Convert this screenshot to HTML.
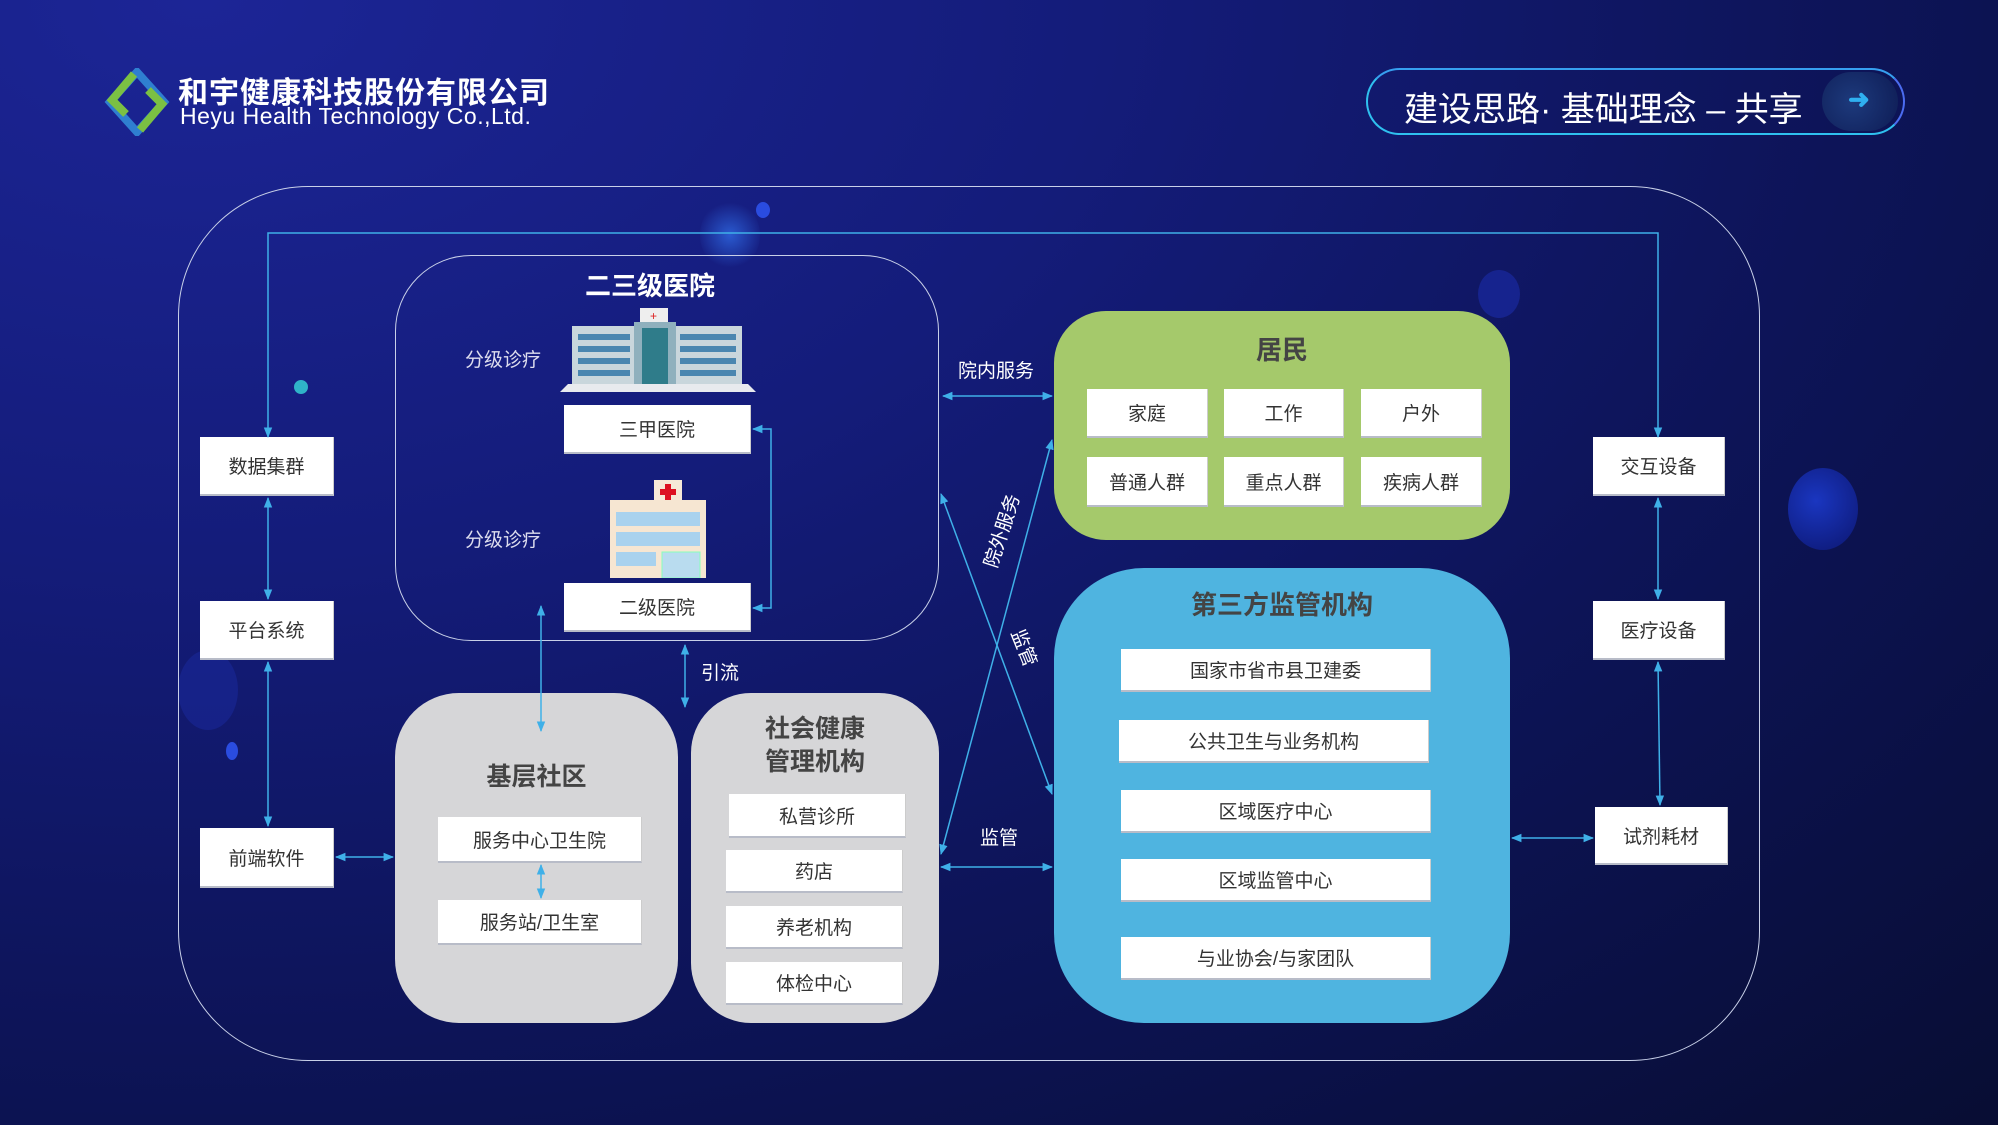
<!DOCTYPE html>
<html><head><meta charset="utf-8">
<style>
*{margin:0;padding:0;box-sizing:border-box}
body{width:1998px;height:1125px;overflow:hidden;position:relative;font-family:"Liberation Sans","Noto Sans CJK SC",sans-serif;
background:radial-gradient(ellipse at 10% 0%,#1c2596 0%,#141c7a 35%,#0d1458 65%,#080d33 100%);}
.a{position:absolute}
.box{position:absolute;background:#fff;color:#333;font-size:19px;display:flex;align-items:center;justify-content:center;border-bottom:2px solid #b8bcc8;border-right:1px solid #ccc}
.t{position:absolute;color:#fff;font-size:19px;white-space:nowrap}
.h{position:absolute;font-weight:bold;color:#444;text-align:center}
</style></head><body>
<!-- decorative dots -->
<div class="a" style="left:700px;top:200px;width:60px;height:70px;border-radius:50%;background:radial-gradient(circle,#2a5ad0 0%,rgba(30,60,180,0) 70%)"></div>
<div class="a" style="left:1478px;top:270px;width:42px;height:48px;border-radius:50%;background:#1a2aa0;opacity:.7"></div>
<div class="a" style="left:1788px;top:468px;width:70px;height:82px;border-radius:50%;background:radial-gradient(circle at 40% 40%,#1a36c0,#0c1670)"></div>
<div class="a" style="left:178px;top:650px;width:60px;height:80px;border-radius:50%;background:#1a2aa0;opacity:.5"></div>
<div class="a" style="left:294px;top:380px;width:14px;height:14px;border-radius:50%;background:#2fb3c8"></div>
<div class="a" style="left:226px;top:742px;width:12px;height:18px;border-radius:50%;background:#2a4ce0"></div>
<div class="a" style="left:756px;top:202px;width:14px;height:16px;border-radius:50%;background:#2a4ce0"></div>

<!-- logo -->
<svg class="a" style="left:104px;top:68px" width="66" height="68" viewBox="0 0 66 68">
<path d="M33 4 L60 34 L33 64 L6 34 Z" fill="none" stroke="#2f7fd0" stroke-width="8"/>
<path d="M30 6 L8 32 L22 46" fill="none" stroke="#7bc043" stroke-width="8"/>
<path d="M36 62 L58 36 L44 22" fill="none" stroke="#7bc043" stroke-width="8"/>
</svg>
<div class="t" style="left:178px;top:68px;font-size:30px;font-weight:bold;letter-spacing:1px">和宇健康科技股份有限公司</div>
<div class="t" style="left:180px;top:103px;font-size:23px;letter-spacing:0.5px">Heyu Health Technology Co.,Ltd.</div>

<!-- title pill -->
<div class="a" style="left:1366px;top:68px;width:539px;height:67px;border-radius:34px;border:2px solid #2fc0ef;border-right-color:#4b6cf0;border-top-color:#36a0f0"></div>
<div class="t" style="left:1404px;top:82px;font-size:34px">建设思路· 基础理念 – 共享</div>
<div class="a" style="left:1822px;top:72px;width:76px;height:59px;border-radius:30px;background:radial-gradient(circle at 40% 50%,#1d3a7c,#0e1c55)"></div>
<div class="t" style="left:1848px;top:84px;font-size:26px;color:#2fb0f0;font-weight:bold">➜</div>

<!-- outer frame -->
<div class="a" style="left:178px;top:186px;width:1582px;height:875px;border:1.5px solid #c8d0e8;border-radius:130px"></div>

<!-- hospital frame -->
<div class="a" style="left:395px;top:255px;width:544px;height:386px;border:1.5px solid #c8d0e8;border-radius:76px"></div>
<div class="t" style="left:585px;top:266px;font-size:26px;font-weight:bold">二三级医院</div>
<div class="t" style="left:465px;top:345px;font-size:19px;color:#dde">分级诊疗</div>
<div class="t" style="left:465px;top:525px;font-size:19px;color:#dde">分级诊疗</div>
<!-- big building -->
<svg class="a" style="left:558px;top:308px" width="200" height="84" viewBox="0 0 200 84">
<rect x="82" y="0" width="28" height="14" fill="#eee"/><text x="92" y="12" fill="#d22" font-size="12" font-family="Liberation Sans">+</text>
<rect x="14" y="18" width="170" height="58" fill="#c9d6dc"/>
<rect x="76" y="14" width="42" height="64" fill="#8fb0bd"/>
<rect x="84" y="20" width="26" height="58" fill="#2f7c8a"/>
<g fill="#4a86b0"><rect x="20" y="26" width="52" height="6"/><rect x="20" y="38" width="52" height="6"/><rect x="20" y="50" width="52" height="6"/><rect x="20" y="62" width="52" height="6"/>
<rect x="122" y="26" width="56" height="6"/><rect x="122" y="38" width="56" height="6"/><rect x="122" y="50" width="56" height="6"/><rect x="122" y="62" width="56" height="6"/></g>
<polygon points="10,76 190,76 198,84 2,84" fill="#e8eaee"/>
</svg>
<!-- small building -->
<svg class="a" style="left:606px;top:480px" width="104" height="98" viewBox="0 0 104 98">
<rect x="48" y="0" width="28" height="24" fill="#f6e9d8"/><rect x="59" y="4" width="6" height="16" fill="#d12"/><rect x="54" y="9" width="16" height="6" fill="#d12"/>
<rect x="4" y="20" width="96" height="78" fill="#f6e6d2"/>
<g fill="#a9d2ee"><rect x="10" y="32" width="84" height="14"/><rect x="10" y="52" width="84" height="14"/><rect x="10" y="72" width="40" height="14"/></g>
<rect x="56" y="72" width="38" height="26" fill="#b9dcef" stroke="#8fb" stroke-width="1"/>
</svg>
<div class="box" style="left:564px;top:405px;width:187px;height:49px">三甲医院</div>
<div class="box" style="left:564px;top:583px;width:187px;height:49px">二级医院</div>

<!-- left & right boxes -->
<div class="box" style="left:200px;top:437px;width:134px;height:59px">数据集群</div>
<div class="box" style="left:200px;top:601px;width:134px;height:59px">平台系统</div>
<div class="box" style="left:200px;top:828px;width:134px;height:60px">前端软件</div>
<div class="box" style="left:1593px;top:437px;width:132px;height:59px">交互设备</div>
<div class="box" style="left:1593px;top:601px;width:132px;height:59px">医疗设备</div>
<div class="box" style="left:1595px;top:807px;width:133px;height:58px">试剂耗材</div>

<!-- 居民 -->
<div class="a" style="left:1054px;top:311px;width:456px;height:229px;border-radius:52px;background:#a5c96b"></div>
<div class="h" style="left:1054px;top:330px;width:456px;font-size:26px">居民</div>
<div class="box" style="left:1087px;top:389px;width:121px;height:49px">家庭</div>
<div class="box" style="left:1224px;top:389px;width:120px;height:49px">工作</div>
<div class="box" style="left:1361px;top:389px;width:121px;height:49px">户外</div>
<div class="box" style="left:1087px;top:457px;width:121px;height:50px">普通人群</div>
<div class="box" style="left:1224px;top:457px;width:120px;height:50px">重点人群</div>
<div class="box" style="left:1361px;top:457px;width:121px;height:50px">疾病人群</div>

<!-- 第三方 -->
<div class="a" style="left:1054px;top:568px;width:456px;height:455px;border-radius:90px;background:#4fb4e0"></div>
<div class="h" style="left:1054px;top:585px;width:456px;font-size:26px">第三方监管机构</div>
<div class="box" style="left:1121px;top:649px;width:310px;height:43px">国家市省市县卫建委</div>
<div class="box" style="left:1119px;top:720px;width:310px;height:43px">公共卫生与业务机构</div>
<div class="box" style="left:1121px;top:790px;width:310px;height:43px">区域医疗中心</div>
<div class="box" style="left:1121px;top:859px;width:310px;height:43px">区域监管中心</div>
<div class="box" style="left:1121px;top:937px;width:310px;height:43px">与业协会/与家团队</div>

<!-- 基层社区 -->
<div class="a" style="left:395px;top:693px;width:283px;height:330px;border-radius:64px;background:#d6d6d8"></div>
<div class="h" style="left:395px;top:757px;width:283px;font-size:25px">基层社区</div>
<div class="box" style="left:438px;top:817px;width:204px;height:46px">服务中心卫生院</div>
<div class="box" style="left:438px;top:900px;width:204px;height:45px">服务站/卫生室</div>

<!-- 社会健康 -->
<div class="a" style="left:691px;top:693px;width:248px;height:330px;border-radius:60px;background:#d6d6d8"></div>
<div class="h" style="left:691px;top:713px;width:248px;font-size:25px;line-height:33px">社会健康<br>管理机构</div>
<div class="box" style="left:729px;top:794px;width:177px;height:44px">私营诊所</div>
<div class="box" style="left:726px;top:850px;width:177px;height:43px">药店</div>
<div class="box" style="left:726px;top:906px;width:177px;height:43px">养老机构</div>
<div class="box" style="left:726px;top:962px;width:177px;height:43px">体检中心</div>

<!-- connectors -->
<svg class="a" style="left:0;top:0" width="1998" height="1125">
<defs><marker id="m" viewBox="0 0 10 10" refX="9" refY="5" markerWidth="7" markerHeight="7" orient="auto-start-reverse"><path d="M0,1 L10,5 L0,9 Z" fill="#3fb0e8"/></marker></defs>
<g stroke="#3fb0e8" stroke-width="1.5" fill="none">
<path d="M268 437 V233 H1658 V437" marker-start="url(#m)" marker-end="url(#m)"/>
<path d="M268 498 V599" marker-start="url(#m)" marker-end="url(#m)"/>
<path d="M268 662 V826" marker-start="url(#m)" marker-end="url(#m)"/>
<path d="M336 857 H393" marker-start="url(#m)" marker-end="url(#m)"/>
<path d="M1658 498 V599" marker-start="url(#m)" marker-end="url(#m)"/>
<path d="M1658 662 L1660 805" marker-start="url(#m)" marker-end="url(#m)"/>
<path d="M1512 838 H1593" marker-start="url(#m)" marker-end="url(#m)"/>
<path d="M753 429 H771 V608 H753" marker-start="url(#m)" marker-end="url(#m)"/>
<path d="M541 606 V731" marker-start="url(#m)" marker-end="url(#m)"/>
<path d="M541 865 V898" marker-start="url(#m)" marker-end="url(#m)"/>
<path d="M685 645 V707" marker-start="url(#m)" marker-end="url(#m)"/>
<path d="M943 396 H1052" marker-start="url(#m)" marker-end="url(#m)"/>
<path d="M941 867 H1052" marker-start="url(#m)" marker-end="url(#m)"/>
<path d="M941 494 L1052 794" marker-start="url(#m)" marker-end="url(#m)"/>
<path d="M1052 440 L941 854" marker-start="url(#m)" marker-end="url(#m)"/>
</g>
</svg>

<div class="t" style="left:958px;top:356px">院内服务</div>
<div class="t" style="left:701px;top:658px">引流</div>
<div class="t" style="left:980px;top:823px">监管</div>
<div class="t" style="left:963px;top:517px;transform:rotate(-72deg)">院外服务</div>
<div class="t" style="left:1006px;top:634px;transform:rotate(68deg)">监管</div>
</body></html>
